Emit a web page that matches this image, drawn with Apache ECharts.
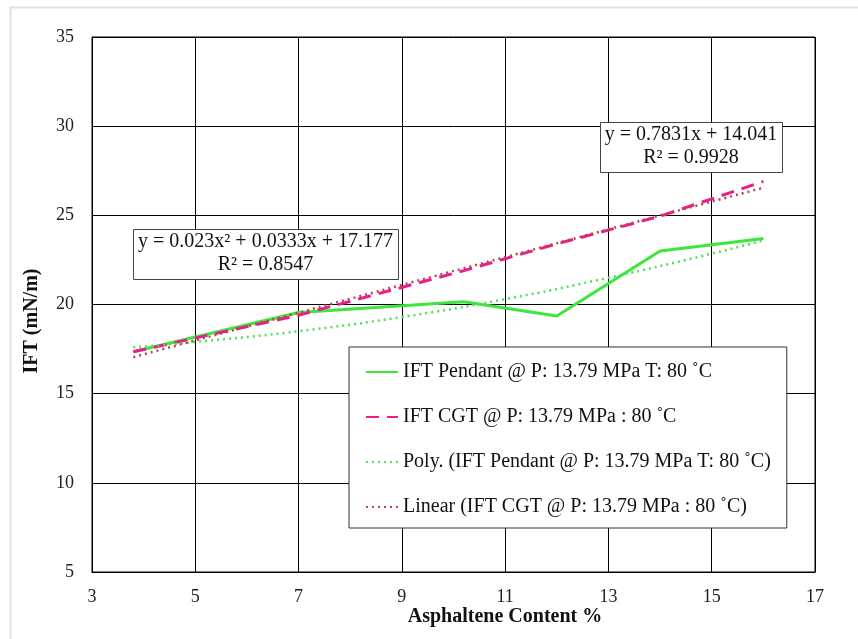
<!DOCTYPE html>
<html>
<head>
<meta charset="utf-8">
<script src="https://cdn.jsdelivr.net/npm/echarts@6/dist/echarts.min.js"></script>
<style>
html,body{margin:0;padding:0;background:#fff;}
#chart{width:858px;height:639px;}
</style>
</head>
<body>
<div id="chart"></div>
<script>
// Data
var pendantX = [3.8, 7, 10.2, 12, 14, 16];
var pendantY = [17.35, 19.55, 20.15, 19.35, 23.0, 23.7];
var cgtX = [3.8, 7, 10.2, 12, 14, 16];
var cgtY = [17.35, 19.4, 21.9, 23.4, 24.95, 26.9];
var polyX = [3.8, 5, 7, 9, 11, 13, 15, 16];
var polyY = [17.6, 17.9, 18.5, 19.3, 20.3, 21.5, 22.85, 23.6];
var linX = [3.8, 16];
var linY = [17.05, 26.55];
var names = [
  'IFT Pendant @ P: 13.79 MPa T: 80 \u02DAC',
  'IFT CGT @ P: 13.79 MPa : 80 \u02DAC',
  'Poly. (IFT Pendant @ P: 13.79 MPa T: 80 \u02DAC)',
  'Linear (IFT CGT @ P: 13.79 MPa : 80 \u02DAC)'
];
var eqPoly = ['y = 0.023x\u00B2 + 0.0333x + 17.177', 'R\u00B2 = 0.8547'];
var eqLin = ['y = 0.7831x + 14.041', 'R\u00B2 = 0.9928'];
var xName = 'Asphaltene Content %';
var yName = 'IFT (mN/m)';

function pairs(xs, ys){ return xs.map(function(x,i){ return [x, ys[i]]; }); }

var FONT = '"Liberation Serif", "Times New Roman", serif';
var chart = echarts.init(document.getElementById('chart'), null, {renderer:'canvas'});
chart.setOption({
  backgroundColor: '#fff',
  animation: false,
  grid: {left: 92, right: 43, top: 37, bottom: 67, show: true, borderColor: '#000', borderWidth: 1},
  xAxis: {
    type: 'value', min: 3, max: 17, interval: 2,
    axisLine: {show: true, lineStyle: {color: '#000', width: 1}},
    axisTick: {show: false},
    splitLine: {show: true, lineStyle: {color: '#000', width: 1}},
    axisLabel: {fontFamily: FONT, fontSize: 18, color: '#222', margin: 16}
  },
  yAxis: {
    type: 'value', min: 5, max: 35, interval: 5,
    axisLine: {show: true, lineStyle: {color: '#000', width: 1}},
    axisTick: {show: false},
    splitLine: {show: true, lineStyle: {color: '#000', width: 1}},
    axisLabel: {fontFamily: FONT, fontSize: 18, color: '#222', margin: 18}
  },
  legend: {
    orient: 'vertical', left: 349, top: 347,
    backgroundColor: '#fff', borderColor: '#333', borderWidth: 1,
    padding: [15, 16, 11, 16],
    itemWidth: 32, itemHeight: 14, itemGap: 25,
    itemStyle: {opacity: 0},
    textStyle: {fontFamily: FONT, fontSize: 20, color: '#111'},
    data: names
  },
  series: [
    {name: names[0], type: 'line', data: pairs(pendantX, pendantY), showSymbol: false, symbol: 'none', symbolSize: 0,
     lineStyle: {color: '#3CE63C', width: 3}, itemStyle: {color: '#3CE63C'}, z: 3},
    {name: names[1], type: 'line', data: pairs(cgtX, cgtY), showSymbol: false, symbol: 'none', symbolSize: 0,
     lineStyle: {color: '#EC1C8C', width: 3, type: [13, 8]}, itemStyle: {color: '#EC1C8C'}, z: 3},
    {name: names[2], type: 'line', data: pairs(polyX, polyY), showSymbol: false, symbol: 'none', symbolSize: 0, smooth: true,
     lineStyle: {color: '#4FE04F', width: 2.5, type: [2, 4]}, itemStyle: {color: '#4FE04F'}, z: 4},
    {name: names[3], type: 'line', data: pairs(linX, linY), showSymbol: false, symbol: 'none', symbolSize: 0,
     lineStyle: {color: '#B04A48', width: 2.5, type: [2, 4]}, itemStyle: {color: '#B04A48'}, z: 4}
  ],
  graphic: [
    {type: 'rect', left: 8, top: 5, z: -10, silent: true,
     shape: {width: 900, height: 700}, style: {fill: 'none', stroke: '#e2e2e2', lineWidth: 2}},
    {type: 'rect', left: 133, top: 229, z: 10,
     shape: {width: 265, height: 50}, style: {fill: '#fff', stroke: '#444', lineWidth: 1}},
    {type: 'text', x: 265.5, y: 241.5, z: 11,
     style: {text: eqPoly[0], fontFamily: FONT, fontSize: 20, fill: '#111', textAlign: 'center', textVerticalAlign: 'middle'}},
    {type: 'text', x: 265.5, y: 265, z: 11,
     style: {text: eqPoly[1], fontFamily: FONT, fontSize: 20, fill: '#111', textAlign: 'center', textVerticalAlign: 'middle'}},
    {type: 'rect', left: 600, top: 122, z: 10,
     shape: {width: 182, height: 50}, style: {fill: '#fff', stroke: '#444', lineWidth: 1}},
    {type: 'text', x: 691, y: 135, z: 11,
     style: {text: eqLin[0], fontFamily: FONT, fontSize: 20, fill: '#111', textAlign: 'center', textVerticalAlign: 'middle'}},
    {type: 'text', x: 691, y: 158, z: 11,
     style: {text: eqLin[1], fontFamily: FONT, fontSize: 20, fill: '#111', textAlign: 'center', textVerticalAlign: 'middle'}},
    {type: 'text', x: 505, y: 617, z: 11,
     style: {text: xName, fontFamily: FONT, fontSize: 20, fontWeight: 'bold', fill: '#111', textAlign: 'center', textVerticalAlign: 'middle'}},
    {type: 'text', x: 32, y: 321, rotation: Math.PI / 2, z: 11,
     style: {text: yName, fontFamily: FONT, fontSize: 20, fontWeight: 'bold', fill: '#111', textAlign: 'center', textVerticalAlign: 'middle'}}
  ]
});
</script>
</body>
</html>
